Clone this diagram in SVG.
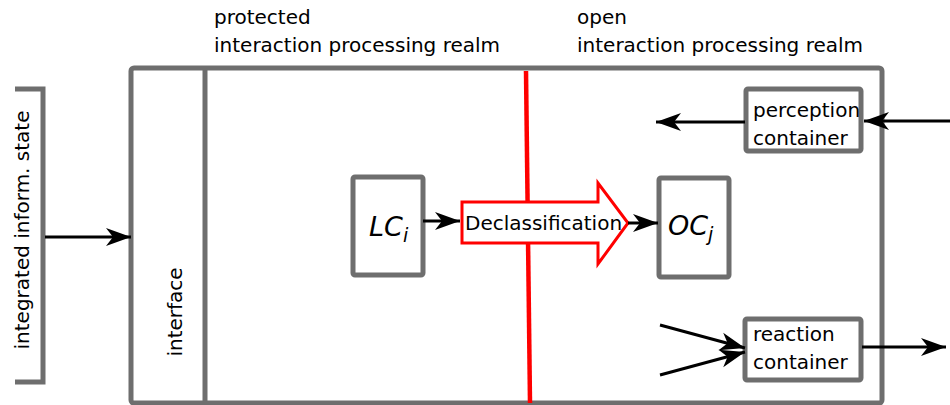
<svg xmlns="http://www.w3.org/2000/svg" width="950" height="405" viewBox="0 0 950 405">
<style>
.g{fill:#fff;stroke:#6e6e6e;stroke-width:5;stroke-linejoin:round}
.t{font-family:"DejaVu Sans","Noto Sans",sans-serif;font-size:20px;fill:#000}
.m{font-family:"DejaVu Sans","Noto Sans",sans-serif;font-size:27px;font-style:italic;fill:#000}
.c{stroke:#000;stroke-width:3;fill:none;marker-end:url(#ah)}
</style>
<defs>
<marker id="ah" markerUnits="userSpaceOnUse" markerWidth="30" markerHeight="20" viewBox="-26 -10 30 20" refX="0" refY="0" orient="auto">
<path d="M0,0 L-25,-9 L-18,0 L-25,9 Z" fill="#000"/>
</marker>
</defs>
<g id="outer"><rect class="g" x="131" y="68" width="751" height="335" rx="3"/></g>
<g id="interface"><line x1="205" y1="68" x2="205" y2="403" stroke="#6e6e6e" stroke-width="5"/>
<text class="t" transform="translate(182,312) rotate(-90)" text-anchor="middle" font-size="18">interface</text></g>
<g id="boundary"><line x1="526" y1="71" x2="530" y2="403" stroke="#f00" stroke-width="4.5"/></g>
<g id="state"><path d="M15,89 H43 V382 H15" fill="none" stroke="#6e6e6e" stroke-width="5"/>
<text class="t" transform="translate(29,230) rotate(-90)" text-anchor="middle" font-size="21.4">integrated inform. state</text></g>
<g id="labels">
<text class="t" x="214" y="24">protected</text>
<text class="t" x="214" y="52">interaction processing realm</text>
<text class="t" x="577" y="24">open</text>
<text class="t" x="577" y="52">interaction processing realm</text>
</g>
<g id="lc"><rect class="g" x="353" y="177" width="70" height="98" rx="2"/>
<text class="m" x="369" y="236">LC<tspan font-size="19" dy="6">i</tspan></text></g>
<g id="oc"><rect class="g" x="659" y="178" width="70" height="99" rx="2"/>
<text class="m" x="668" y="235">OC<tspan font-size="19" dy="6">j</tspan></text></g>
<g id="perception"><rect class="g" x="746" y="89" width="115" height="62" rx="2"/>
<text class="t" x="753" y="117" font-size="19.6">perception</text><text class="t" x="753" y="145" font-size="19.6">container</text></g>
<g id="reaction"><rect class="g" x="745" y="319" width="116" height="61" rx="2"/>
<text class="t" x="753" y="341" font-size="19.6">reaction</text><text class="t" x="753" y="369" font-size="19.6">container</text></g>
<g id="declass"><path d="M462,202 H598 V183 L628,223 L598,264 V243 H462 Z" fill="#fff" stroke="#f00" stroke-width="3" stroke-linejoin="miter"/>
<text class="t" x="465" y="230" font-size="20.7">Declassification</text></g>
<g id="connectors">
<line class="c" x1="45" y1="237" x2="131" y2="237"/>
<line class="c" x1="423" y1="221" x2="460" y2="221"/>
<line class="c" x1="628" y1="223" x2="658" y2="223"/>
<line class="c" x1="745" y1="122" x2="656" y2="122"/>
<line class="c" x1="950" y1="121" x2="864" y2="121"/>
<line class="c" x1="660" y1="325" x2="745" y2="348"/>
<line class="c" x1="660" y1="375" x2="745" y2="352"/>
<line class="c" x1="862" y1="347" x2="946" y2="347"/>
</g>
</svg>
